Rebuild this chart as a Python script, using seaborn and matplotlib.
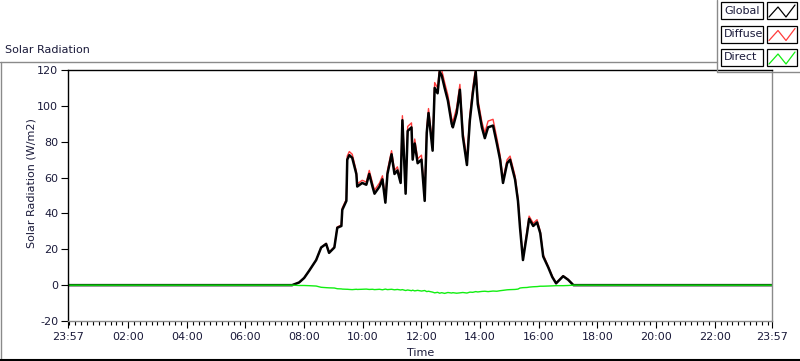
import matplotlib
matplotlib.use("Agg")
import matplotlib.pyplot as plt
from matplotlib.lines import Line2D
from matplotlib.patches import Rectangle
import numpy as np
import pandas as pd
import seaborn as sns

# ---------------- data ----------------
hours = [-0.05, 7.59, 7.83, 8.00, 8.17, 8.41, 8.58, 8.75, 8.85, 9.03,
         9.13, 9.27, 9.30, 9.44, 9.47, 9.54, 9.64, 9.78, 9.81, 9.98,
         10.12, 10.22, 10.33, 10.40, 10.57, 10.67, 10.77, 10.84, 10.98, 11.08,
         11.18, 11.29, 11.35, 11.46, 11.53, 11.66, 11.70, 11.77, 11.87, 12.00,
         12.11, 12.18, 12.24, 12.38, 12.45, 12.55, 12.62, 12.69, 12.79, 12.90,
         13.03, 13.07, 13.20, 13.31, 13.41, 13.55, 13.65, 13.75, 13.85, 13.92,
         14.06, 14.16, 14.27, 14.44, 14.57, 14.68, 14.78, 14.92, 15.02, 15.19,
         15.29, 15.36, 15.46, 15.60, 15.67, 15.81, 15.94, 16.05, 16.15, 16.32,
         16.46, 16.59, 16.83, 17.00, 17.18, 23.95]

global_rad = [0, 0, 1.5, 4, 8, 14, 21, 23, 18, 21,
              32, 33, 42, 47, 70, 72.5, 71, 62, 55, 57,
              56, 62, 55, 51, 55, 59, 46, 62, 73, 62,
              64, 57, 92, 51, 86, 88, 70, 79, 68, 70,
              47, 85, 96, 75, 110, 107, 119, 117, 110, 103,
              90, 88, 96, 109, 83, 67, 92, 107, 119, 101,
              88, 82, 88, 89, 79, 70, 57, 68, 70, 59,
              47, 32, 14, 29, 37, 33, 35, 29, 16, 10,
              4.5, 1, 5, 3, 0, 0]

diffuse_rad = [0, 0, 1.5, 4, 8, 14, 21, 23.3, 18.3, 21.3,
               32.5, 33.5, 43, 48, 72, 74.5, 73, 63.5, 56.5, 58.5,
               57.5, 64, 57, 53, 57, 61, 48, 64, 75, 64,
               66, 59, 94.5, 53, 88.5, 90.5, 72.5, 81.5, 70.5, 72.5,
               49.5, 87.5, 98.5, 78, 113, 110, 122, 120, 113, 106,
               93, 91, 99, 112, 86, 70, 95, 110, 122, 104,
               91, 85, 91.5, 92.5, 82, 72.5, 59, 70, 72, 61,
               48.5, 33, 15, 30.5, 38.5, 34.5, 36.5, 30, 17, 10.5,
               5, 1.2, 5.2, 3.2, 0, 0]

direct_rad = [0, 0, -0.2, -0.2, -0.3, -0.5, -1.2, -1.4, -1.5, -1.6,
              -2.0, -2.1, -2.2, -2.3, -2.3, -2.4, -2.5, -2.3, -2.4, -2.3,
              -2.2, -2.4, -2.3, -2.5, -2.3, -2.6, -2.2, -2.5, -2.3, -2.6,
              -2.4, -2.7, -2.5, -3.0, -2.7, -3.1, -2.8, -3.2, -2.9, -3.3,
              -3.0, -3.6, -3.4, -3.9, -4.3, -4.0, -4.5, -4.2, -4.6, -4.1,
              -4.4, -4.2, -4.5, -4.3, -4.1, -4.4, -3.9, -4.0, -3.6, -3.8,
              -3.5, -3.4, -3.6, -3.3, -3.4, -3.1, -2.9, -2.6, -2.5, -2.4,
              -2.2, -1.6, -1.4, -1.3, -1.1, -0.9, -0.8, -0.6, -0.6, -0.5,
              -0.4, -0.3, -0.3, -0.2, 0, 0]

series_names = ["Global", "Diffuse", "Direct"]
xtick_pos = [-0.05, 2, 4, 6, 8, 10, 12, 14, 16, 18, 20, 22, 23.95]
xtick_labels = ["23:57", "02:00", "04:00", "06:00", "08:00", "10:00", "12:00",
                "14:00", "16:00", "18:00", "20:00", "22:00", "23:57"]
ytick_pos = [-20, 0, 20, 40, 60, 80, 100, 120]

df = pd.DataFrame({"Time": hours, "Global": global_rad,
                   "Diffuse": diffuse_rad, "Direct": direct_rad})

# ---------------- style ----------------
sns.set_style("white")
plt.rcParams["font.family"] = ["DejaVu Sans"]
TXT = "#1a1a3a"

W, H = 800, 361
fig = plt.figure(figsize=(W / 100, H / 100), dpi=100)
fig.patch.set_facecolor("white")

def P(x, y):
    return (x / W, 1 - y / H)

ax = fig.add_axes([68 / W, 1 - 321 / H, (772 - 68) / W, (321 - 70) / H])

sns.lineplot(data=df, x="Time", y="Diffuse", ax=ax, color="#ff3b3b", lw=1.0,
             estimator=None, sort=False)
sns.lineplot(data=df, x="Time", y="Global", ax=ax, color="black", lw=1.8,
             estimator=None, sort=False)
sns.lineplot(data=df, x="Time", y="Direct", ax=ax, color="#11ee11", lw=1.0,
             estimator=None, sort=False)

ax.set_xlim(-0.05, 23.95)
ax.set_ylim(-20, 120)
ax.set_xticks(xtick_pos)
ax.set_xticklabels(xtick_labels, fontsize=8, color=TXT)
ax.set_xticks([m / 5 for m in range(0, 120) if m % 10 != 0 or m == 0],
              minor=True)
ax.set_yticks(ytick_pos)
ax.set_yticklabels([str(v) for v in ytick_pos], fontsize=8, color=TXT)
ax.tick_params(axis="x", which="major", direction="out", length=5, width=0.8,
               color="black", pad=3, bottom=True, top=False)
ax.tick_params(axis="x", which="minor", direction="out", length=3, width=0.8,
               color="black", bottom=True, top=False)
ax.tick_params(axis="y", which="major", direction="out", length=5, width=0.8,
               color="black", pad=2, left=True, right=False)
ax.set_xlabel("")
ax.set_ylabel("")
for side, col in (("left", "black"), ("top", "black"),
                  ("right", "#8a8a8a"), ("bottom", "#8a8a8a")):
    ax.spines[side].set_color(col)
    ax.spines[side].set_linewidth(1.0)
    ax.spines[side].set_visible(True)

fig.text(32 / W, 1 - 183 / H, "Solar Radiation (W/m2)", rotation=90,
         ha="center", va="center", fontsize=8, color=TXT)
fig.text(421 / W, 1 - 353 / H, "Time", ha="center", va="center",
         fontsize=8, color=TXT)
fig.text(5 / W, 1 - 50 / H, "Solar Radiation", ha="left", va="center",
         fontsize=8, color=TXT)

# outer panel frame
def fline(pts, color, lw=1.0):
    xs = [P(*p)[0] for p in pts]
    ys = [P(*p)[1] for p in pts]
    fig.add_artist(Line2D(xs, ys, color=color, lw=lw, transform=fig.transFigure))

fline([(0, 62), (717, 62)], "#8a8a8a")
fline([(0.5, 62), (0.5, 359)], "#8a8a8a")
fline([(0, 359.5), (800, 359.5)], "black", 1.5)

# legend
fline([(717, 0), (717, 72), (800, 72)], "#8a8a8a")
leg_colors = ["black", "#ff3b3b", "#11ee11"]
for i, (name, col) in enumerate(zip(series_names, leg_colors)):
    top = 2 + i * 23.5
    h = 17
    x0, y0 = P(721, top + h)
    fig.add_artist(Rectangle((x0, y0), 42 / W, h / H, transform=fig.transFigure,
                             facecolor="white", edgecolor="black", lw=0.9))
    x0, y0 = P(767, top + h)
    fig.add_artist(Rectangle((x0, y0), 30 / W, h / H, transform=fig.transFigure,
                             facecolor="white", edgecolor="black", lw=0.9))
    fig.text(*P(724, top + h / 2), name, ha="left", va="center", fontsize=8,
             color=TXT)
    fline([(769, top + 15), (778, top + 5), (786, top + 15), (795, top + 3)],
          col, 0.9)

fig.savefig("out.png", dpi=100, facecolor="white")
